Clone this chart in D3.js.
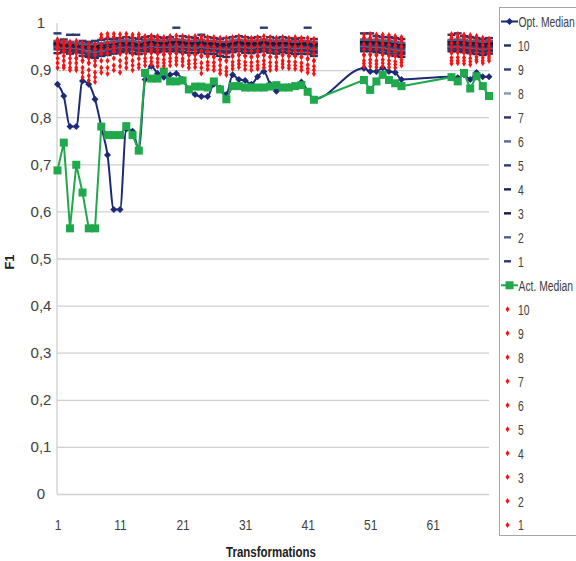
<!DOCTYPE html>
<html>
<head>
<meta charset="utf-8">
<script src="https://cdn.jsdelivr.net/npm/d3@7"></script>
<style>
  body { margin:0; background:#fff; }
  text { font-family:"Liberation Sans",Arial,sans-serif; fill:#404040; }
  .ttl { font-weight:bold; fill:#202020; }
</style>
</head>
<body>
<div id="chart"></div>
<script>
/* data */
var transformations = [1,2,3,4,5,6,7,8,9,10,11,12,13,14,15,16,17,18,19,20,21,22,23,24,25,26,27,28,29,30,31,32,33,34,35,36,37,38,39,40,41,42,
  50,51,52,53,54,55,56, 64,65,66,67,68,69,70];

var optMedian = [.870,.845,.780,.780,.877,.870,.838,.780,.720,.604,.604,.775,.770,.733,.880,.908,.893,.885,.890,.893,.880,.860,.848,.844,.844,.870,.862,.848,.890,.880,.878,.870,.886,.897,.870,.855,.863,.865,.866,.875,.855,.838,
  .904,.897,.897,.905,.897,.895,.880, .886,.884,.890,.880,.895,.886,.886];

var actMedian = [.687,.746,.564,.699,.640,.564,.564,.780,.762,.762,.762,.781,.762,.729,.894,.882,.882,.897,.876,.876,.878,.859,.865,.865,.863,.876,.859,.838,.866,.866,.863,.863,.863,.863,.865,.868,.863,.863,.866,.868,.854,.837,
  .879,.858,.876,.890,.879,.872,.866, .885,.876,.894,.861,.887,.866,.845];

// one row per transformation, runs 1..10
var optRuns = [
 [.978,.962,.958,.955,.953,.95,.948,.96,.944,.936],
 [.965,.958,.955,.952,.95,.948,.946,.96,.942,.938],
 [.975,.96,.956,.953,.95,.948,.944,.958,.94,.935],
 [.975,.958,.955,.95,.95,.947,.944,.956,.94,.938],
 [.962,.955,.952,.95,.948,.945,.94,.958,.936,.93],
 [.96,.955,.95,.948,.945,.94,.936,.952,.932,.928],
 [.962,.956,.95,.946,.942,.94,.935,.952,.93,.926],
 [.964,.957,.953,.948,.945,.941,.938,.955,.935,.93],
 [.966,.958,.955,.95,.948,.945,.94,.96,.936,.932],
 [.966,.96,.957,.955,.95,.948,.945,.962,.94,.935],
 [.968,.962,.958,.955,.952,.95,.946,.963,.942,.938],
 [.97,.963,.958,.955,.952,.95,.947,.962,.944,.94],
 [.968,.962,.957,.955,.951,.949,.945,.96,.942,.936],
 [.966,.96,.956,.953,.95,.948,.944,.958,.94,.934],
 [.97,.963,.958,.955,.952,.95,.947,.96,.944,.94],
 [.972,.965,.96,.957,.954,.952,.948,.962,.945,.94],
 [.97,.963,.958,.955,.952,.95,.946,.96,.943,.938],
 [.968,.962,.958,.955,.952,.95,.947,.96,.944,.94],
 [.97,.964,.96,.956,.953,.95,.947,.961,.944,.94],
 [.99,.965,.96,.957,.954,.951,.948,.962,.945,.94],
 [.972,.964,.96,.956,.953,.95,.947,.961,.944,.938],
 [.97,.962,.958,.955,.952,.949,.946,.96,.943,.937],
 [.968,.962,.957,.954,.951,.948,.945,.959,.942,.936],
 [.975,.964,.96,.956,.953,.95,.946,.961,.943,.938],
 [.97,.962,.958,.955,.951,.948,.945,.96,.942,.935],
 [.968,.962,.957,.954,.95,.947,.944,.958,.94,.934],
 [.966,.96,.956,.952,.949,.946,.942,.957,.938,.93],
 [.968,.96,.956,.952,.948,.945,.94,.957,.936,.928],
 [.97,.963,.958,.955,.952,.949,.946,.96,.943,.938],
 [.972,.964,.96,.956,.953,.95,.947,.961,.944,.94],
 [.97,.963,.958,.955,.952,.949,.945,.96,.942,.937],
 [.968,.962,.957,.954,.951,.948,.944,.959,.941,.936],
 [.97,.963,.958,.955,.952,.95,.946,.96,.943,.938],
 [.99,.965,.96,.957,.954,.951,.948,.962,.945,.94],
 [.97,.963,.958,.955,.952,.949,.946,.96,.942,.937],
 [.968,.962,.957,.954,.951,.948,.944,.959,.94,.935],
 [.97,.963,.958,.955,.952,.95,.946,.96,.943,.938],
 [.968,.962,.958,.955,.952,.949,.945,.96,.942,.936],
 [.966,.96,.956,.953,.95,.947,.943,.958,.94,.934],
 [.968,.962,.957,.954,.951,.948,.944,.959,.941,.935],
 [.99,.962,.958,.955,.951,.948,.944,.959,.94,.934],
 [.966,.96,.956,.952,.948,.945,.94,.957,.936,.93],
 [.978,.965,.96,.957,.954,.951,.948,.962,.945,.94],
 [.978,.964,.96,.956,.953,.95,.947,.961,.944,.94],
 [.972,.964,.959,.956,.953,.95,.946,.961,.943,.938],
 [.97,.963,.958,.955,.952,.949,.945,.96,.942,.937],
 [.97,.962,.957,.954,.95,.947,.943,.959,.94,.935],
 [.968,.96,.955,.952,.948,.944,.94,.957,.935,.93],
 [.966,.958,.954,.95,.946,.942,.938,.955,.934,.928],
 [.975,.964,.96,.956,.953,.95,.947,.961,.944,.94],
 [.978,.965,.96,.957,.954,.951,.948,.962,.945,.94],
 [.972,.964,.959,.955,.952,.949,.946,.96,.943,.938],
 [.97,.962,.958,.955,.951,.948,.944,.959,.941,.936],
 [.968,.962,.957,.954,.95,.947,.943,.958,.94,.934],
 [.966,.96,.955,.951,.948,.945,.941,.956,.938,.932],
 [.968,.962,.957,.953,.95,.947,.943,.958,.94,.935]
];

var actRuns = [
 [.965,.96,.96,.952,.945,.945,.935,.925,.915,.905],
 [.962,.962,.955,.948,.94,.94,.93,.92,.91,.905],
 [.96,.955,.955,.945,.935,.935,.925,.915,.905,.9],
 [.962,.955,.955,.945,.935,.925,.925,.915,.905,.9],
 [.958,.95,.95,.94,.93,.92,.92,.905,.895,.885],
 [.956,.948,.948,.935,.925,.915,.915,.9,.888,.878],
 [.955,.945,.945,.932,.92,.91,.91,.895,.885,.875],
 [.975,.968,.968,.955,.945,.935,.935,.92,.905,.895],
 [.977,.97,.97,.958,.946,.935,.935,.92,.905,.892],
 [.977,.97,.97,.958,.948,.94,.94,.925,.91,.9],
 [.976,.968,.968,.955,.945,.935,.935,.92,.908,.895],
 [.977,.97,.97,.958,.947,.937,.937,.925,.915,.905],
 [.975,.968,.968,.955,.944,.934,.934,.92,.91,.9],
 [.976,.97,.97,.958,.947,.936,.936,.924,.912,.905],
 [.972,.965,.965,.955,.945,.935,.935,.925,.918,.91],
 [.973,.966,.966,.955,.945,.937,.937,.926,.918,.912],
 [.972,.965,.965,.953,.943,.935,.935,.924,.916,.908],
 [.97,.963,.963,.952,.942,.933,.933,.922,.915,.908],
 [.972,.965,.965,.954,.944,.935,.935,.925,.918,.91],
 [.973,.966,.966,.955,.945,.936,.936,.926,.92,.912],
 [.972,.965,.965,.953,.943,.935,.935,.924,.918,.91],
 [.97,.963,.963,.952,.942,.932,.932,.92,.913,.905],
 [.972,.965,.965,.952,.942,.933,.933,.922,.914,.906],
 [.972,.965,.965,.952,.94,.93,.93,.915,.905,.893],
 [.97,.962,.962,.95,.94,.93,.93,.917,.91,.902],
 [.97,.962,.962,.95,.94,.928,.928,.916,.908,.9],
 [.968,.96,.96,.947,.935,.922,.922,.91,.9,.893],
 [.968,.96,.96,.946,.934,.92,.92,.905,.897,.89],
 [.97,.962,.962,.95,.94,.93,.93,.917,.91,.903],
 [.972,.965,.965,.953,.943,.932,.932,.92,.913,.906],
 [.97,.962,.962,.95,.94,.93,.93,.917,.91,.902],
 [.968,.962,.962,.95,.94,.928,.928,.916,.908,.9],
 [.97,.962,.962,.95,.94,.93,.93,.918,.91,.903],
 [.972,.965,.965,.953,.943,.932,.932,.92,.912,.905],
 [.97,.962,.962,.95,.94,.928,.928,.916,.908,.9],
 [.968,.962,.962,.95,.94,.928,.928,.916,.908,.902],
 [.97,.963,.963,.952,.942,.932,.932,.92,.913,.906],
 [.968,.962,.962,.95,.94,.93,.93,.918,.91,.904],
 [.97,.962,.962,.95,.94,.93,.93,.917,.91,.903],
 [.968,.962,.962,.95,.94,.928,.928,.915,.907,.9],
 [.968,.96,.96,.947,.936,.924,.924,.911,.903,.895],
 [.966,.958,.958,.945,.934,.92,.92,.908,.9,.892],
 [.975,.968,.968,.955,.944,.932,.932,.92,.914,.908],
 [.976,.968,.968,.955,.945,.933,.933,.922,.915,.908],
 [.975,.967,.967,.955,.944,.932,.932,.92,.913,.906],
 [.975,.968,.968,.956,.945,.933,.933,.922,.915,.908],
 [.974,.966,.966,.954,.943,.931,.931,.92,.913,.906],
 [.972,.964,.964,.952,.94,.93,.93,.918,.912,.905],
 [.97,.962,.962,.95,.94,.931,.931,.922,.916,.91],
 [.976,.968,.968,.957,.948,.937,.937,.926,.92,.914],
 [.976,.97,.97,.958,.948,.938,.938,.927,.92,.915],
 [.975,.968,.968,.957,.947,.937,.937,.926,.92,.914],
 [.974,.967,.967,.956,.946,.935,.935,.925,.918,.912],
 [.972,.965,.965,.955,.946,.937,.937,.928,.922,.918],
 [.968,.962,.962,.953,.944,.935,.935,.926,.92,.915],
 [.966,.96,.96,.952,.945,.937,.937,.93,.925,.92]
];

var runLabels = ["10","9","8","7","6","5","4","3","2","1"];
var xTicks = [1,11,21,31,41,51,61];
var yTicks = [0,.1,.2,.3,.4,.5,.6,.7,.8,.9,1];

/* colours of the opt. run dashes, run 1..10 */
var optRunColors = ["#2a3a70","#4a6090","#111a3a","#1b2450","#2d3d78","#5a6890","#2a3560","#8a93b0","#2b3f7a","#1f3264"];
var optCol = "#1c2a78", actCol = "#1fa84c", runRed = "#ff1010";

var W = 576, H = 561;
var svg = d3.select("#chart").append("svg").attr("width", W).attr("height", H);
svg.append("rect").attr("width", W).attr("height", H).attr("fill", "#fff");

var x = d3.scaleLinear().domain([1, 70]).range([57.5, 489]);
var y = d3.scaleLinear().domain([0, 1]).range([494, 23]);

var comma = d3.formatLocale({decimal: ",", thousands: ".", grouping: [3], currency: ["", ""]});
var fmt = function(d) { return (d === 0 || d === 1) ? String(d) : comma.format(".1f")(d); };
var narrow = 0.8;

// y axis + gridlines
var gy = svg.append("g").attr("transform", "translate(57,0)")
  .call(d3.axisLeft(y).tickValues(yTicks).tickSize(-(489 - 57)).tickFormat(fmt));
gy.select(".domain").remove();
gy.selectAll(".tick line").attr("stroke", "#d0d0d0").attr("stroke-width", 1.3)
  .attr("opacity", function(d) { return d === 1 ? 0 : 1; });
gy.selectAll(".tick text").attr("x", -16).attr("text-anchor", "middle")
  .style("font-size", "15px").attr("fill", "#404040");
svg.append("line").attr("x1", 57).attr("x2", 57).attr("y1", y(1)).attr("y2", y(0))
  .attr("stroke", "#d0d0d0").attr("stroke-width", 1.3);

// x axis labels
var gx = svg.append("g").attr("transform", "translate(0,494)")
  .call(d3.axisBottom(x).tickValues(xTicks).tickSize(0).tickPadding(25));
gx.select(".domain").remove();
gx.selectAll(".tick text").style("font-size", "15px").attr("fill", "#404040")
  .attr("transform", "scale(" + narrow + ",1)");

svg.append("text").attr("class", "ttl").attr("transform", "translate(14,262) rotate(-90)")
  .attr("text-anchor", "middle").style("font-size", "13px").text("F1");
svg.append("text").attr("class", "ttl").attr("transform", "translate(271,557) scale(0.82,1)")
  .attr("text-anchor", "middle").style("font-size", "14px").text("Transformations");

var diamond = function(w, h) { return "M0," + (-h) + "L" + w + ",0L0," + h + "L" + (-w) + ",0Z"; };

var rows = transformations.map(function(t, i) {
  return {t: t, opt: optMedian[i], act: actMedian[i], optRuns: optRuns[i], actRuns: actRuns[i]};
});

// Opt. Median (smoothed)
svg.append("path").datum(rows)
  .attr("fill", "none").attr("stroke", optCol).attr("stroke-width", 2)
  .attr("d", d3.line().x(function(d) { return x(d.t); }).y(function(d) { return y(d.opt); }).curve(d3.curveMonotoneX));
svg.append("g").selectAll("path").data(rows).enter().append("path")
  .attr("transform", function(d) { return "translate(" + x(d.t) + "," + y(d.opt) + ")"; })
  .attr("d", diamond(3.5, 3.5)).attr("fill", optCol);

// opt runs (dashes), drawn 10..1
for (var r = 9; r >= 0; r--) {
  svg.append("g").selectAll("rect").data(rows).enter().append("rect")
    .attr("x", function(d) { return x(d.t) - 4; })
    .attr("y", function(d) { return y(d.optRuns[r]) - 1.2; })
    .attr("width", 8).attr("height", 2.4).attr("fill", optRunColors[r]);
}

// Act. Median
svg.append("path").datum(rows)
  .attr("fill", "none").attr("stroke", actCol).attr("stroke-width", 2)
  .attr("d", d3.line().x(function(d) { return x(d.t); }).y(function(d) { return y(d.act); }));
svg.append("g").selectAll("rect").data(rows).enter().append("rect")
  .attr("x", function(d) { return x(d.t) - 4; }).attr("y", function(d) { return y(d.act) - 4; })
  .attr("width", 8).attr("height", 8).attr("fill", actCol);

// act runs (red diamonds), drawn 10..1
for (var k = 9; k >= 0; k--) {
  svg.append("g").selectAll("path").data(rows).enter().append("path")
    .attr("transform", function(d) { return "translate(" + x(d.t) + "," + y(d.actRuns[k]) + ")"; })
    .attr("d", diamond(2, 3.2)).attr("fill", runRed);
}

// legend
var lg = svg.append("g");
lg.append("rect").attr("x", 499.5).attr("y", 7.5).attr("width", 100).attr("height", 528)
  .attr("fill", "#fff").attr("stroke", "#a6a6a6");
var step = 23.98, ly0 = 21.5;
var items = [{name: "Opt. Median", type: "optMed"}];
runLabels.forEach(function(l, i) { items.push({name: l, type: "optRun", run: 9 - i}); });
items.push({name: "Act. Median", type: "actMed"});
runLabels.forEach(function(l) { items.push({name: l, type: "actRun"}); });

var li = lg.selectAll("g.li").data(items).enter().append("g").attr("class", "li")
  .attr("transform", function(d, i) { return "translate(0," + (ly0 + i * step) + ")"; });
li.each(function(d) {
  var g = d3.select(this);
  var tx = 518;
  if (d.type === "optMed" || d.type === "actMed") {
    var c = d.type === "optMed" ? optCol : actCol;
    g.append("line").attr("x1", 501).attr("x2", 518).attr("stroke", c).attr("stroke-width", 2);
    if (d.type === "optMed") g.append("path").attr("transform", "translate(509.5,0)").attr("d", diamond(3.5, 3.5)).attr("fill", c);
    else g.append("rect").attr("x", 505.5).attr("y", -4).attr("width", 8).attr("height", 8).attr("fill", c);
    tx = 518.5;
  } else if (d.type === "optRun") {
    g.append("rect").attr("x", 504).attr("y", -1.2).attr("width", 7).attr("height", 2.4).attr("fill", optRunColors[d.run]);
  } else {
    g.append("path").attr("transform", "translate(507.5,0)").attr("d", diamond(2, 3)).attr("fill", runRed);
  }
  g.append("text").attr("transform", "translate(" + tx + ",0) scale(0.69,1)")
    .attr("dy", "0.36em").style("font-size", "15px").text(d.name);
});
</script>
</body>
</html>
